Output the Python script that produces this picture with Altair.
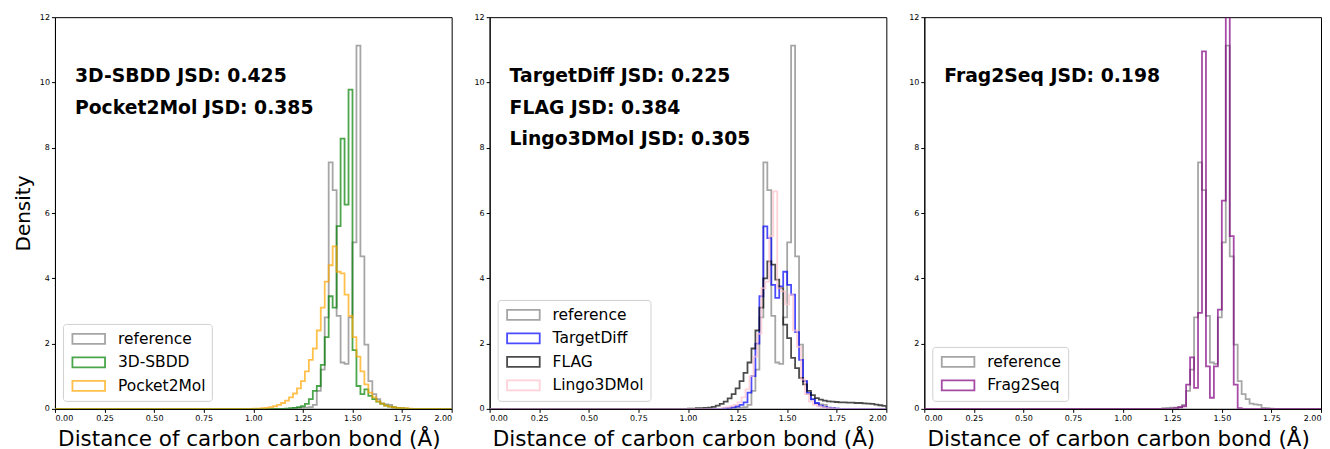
import altair as alt
import pandas as pd

BIN = 0.02

# ---- histogram densities (bin width 0.02), each series: first bin edge + densities ----
REF_START = 1.20
REF_VALS = [0.02, 0.03, 0.04, 0.04, 0.05, 0.12, 0.55, 1.2, 2.8, 7.55, 6.7, 2.85, 1.42, 1.38,
            2.8, 5.1, 11.13, 4.67, 1.97, 0.85, 0.45, 0.3, 0.16, 0.14, 0.12, 0.03, 0.02, 0.01]

SBDD_START = 1.16
SBDD_VALS = [0.01, 0.02, 0.03, 0.05, 0.08, 0.15, 0.3, 0.55, 0.7, 1.35, 2.2, 3.45, 3.1, 5.6,
             8.28, 6.26, 9.78, 1.8, 0.7, 0.45, 0.6, 0.4, 0.3, 0.22, 0.16, 0.1, 0.07, 0.05,
             0.03, 0.02, 0.01]

P2M_START = 1.00
P2M_VALS = [0.01, 0.01, 0.02, 0.03, 0.05, 0.08, 0.12, 0.18, 0.25, 0.35, 0.47, 0.63, 0.85,
            1.15, 1.5, 1.85, 2.4, 3.1, 3.9, 4.4, 4.98, 4.2, 4.15, 3.5, 2.85, 2.2, 1.6, 1.15,
            0.75, 0.5, 0.35, 0.23, 0.16, 0.1, 0.07, 0.05, 0.03, 0.02, 0.02, 0.01]

TD_START = 1.18
TD_VALS = [0.02, 0.03, 0.05, 0.08, 0.12, 0.2, 0.5, 1.0, 2.0, 3.45, 5.59, 5.23, 3.8, 3.4,
           3.75, 4.2, 3.8, 3.5, 2.35, 1.5, 0.85, 0.49, 0.29, 0.18, 0.1, 0.06, 0.04, 0.02, 0.01]

FLAG_START = 1.00
FLAG_VALS = [0.01, 0.01, 0.02, 0.02, 0.03, 0.04, 0.06, 0.1, 0.15, 0.22, 0.32, 0.45, 0.63,
             0.85, 1.1, 1.42, 1.85, 2.4, 3.1, 4.0, 4.52, 4.42, 3.96, 3.7, 2.58, 2.17, 1.56,
             1.25, 0.95, 0.75, 0.55, 0.42, 0.33, 0.28, 0.25, 0.23, 0.22, 0.21, 0.2, 0.2,
             0.19, 0.19, 0.18, 0.18, 0.17, 0.16, 0.15, 0.13, 0.11, 0.09]

LINGO_START = 1.17
LINGO_VALS = [0.03, 0.05, 0.08, 0.12, 0.2, 0.35, 0.6, 1.0, 1.6, 2.3, 3.7, 3.9, 5.3, 6.66,
              3.7, 3.6, 3.2, 3.5, 2.4, 1.9, 0.9, 0.45, 0.22, 0.12, 0.08, 0.05, 0.03, 0.02, 0.01]

F2S_START = 1.24
F2S_VALS = [0.01, 0.02, 0.05, 0.08, 0.74, 1.58, 0.64, 2.94, 10.95, 1.3, 0.34, 1.3, 3.04,
            6.38, 14.5, 5.29, 0.74, 0.02]

X_TICKS = [0.0, 0.25, 0.5, 0.75, 1.0, 1.25, 1.5, 1.75, 2.0]
Y_TICKS = [0, 2, 4, 6, 8, 10, 12]

PANELS = [
    {"names": ["reference", "3D-SBDD", "Pocket2Mol"],
     "colors": ["gray", "green", "orange"],
     "series": [(REF_START, REF_VALS), (SBDD_START, SBDD_VALS), (P2M_START, P2M_VALS)],
     "texts": ["3D-SBDD JSD: 0.425", "Pocket2Mol JSD: 0.385"]},
    {"names": ["reference", "TargetDiff", "FLAG", "Lingo3DMol"],
     "colors": ["gray", "blue", "black", "pink"],
     "series": [(REF_START, REF_VALS), (TD_START, TD_VALS), (FLAG_START, FLAG_VALS),
                (LINGO_START, LINGO_VALS)],
     "texts": ["TargetDiff JSD: 0.225", "FLAG JSD: 0.384", "Lingo3DMol JSD: 0.305"]},
    {"names": ["reference", "Frag2Seq"],
     "colors": ["gray", "purple"],
     "series": [(REF_START, REF_VALS), (F2S_START, F2S_VALS)],
     "texts": ["Frag2Seq JSD: 0.198"]},
]

XTITLE = "Distance of carbon carbon bond (Å)"
FONT = "DejaVu Sans"
RECT = "M-0.69,-0.625L3.39,-0.625L3.39,0.625L-0.69,0.625Z"


def step_rows(name, start, vals):
    rows = []
    pts = [(0.0, 0.0), (start, 0.0)]
    for k, v in enumerate(vals):
        e0 = start + BIN * k
        pts.append((e0, v))
        pts.append((e0 + BIN, v))
    end = start + BIN * len(vals)
    pts.append((end, 0.0))
    pts.append((2.0, 0.0))
    for i, (x, y) in enumerate(pts):
        rows.append({"series": name, "x": x, "y": y, "i": i})
    return rows


def make_panel(p, first):
    rows = []
    for name, (start, vals) in zip(p["names"], p["series"]):
        rows.extend(step_rows(name, start, vals))
    df = pd.DataFrame(rows)
    yaxis = alt.Axis(values=Y_TICKS, title="Density" if first else None, format="d",
                     titlePadding=6)
    lines = alt.Chart(df).mark_line(strokeWidth=1.8, strokeOpacity=0.7, clip=True).encode(
        x=alt.X("x:Q", scale=alt.Scale(domain=[0, 2], nice=False, zero=False),
                axis=alt.Axis(values=X_TICKS, format=".2f", title=XTITLE, titlePadding=6,
                              titleX=194)),
        y=alt.Y("y:Q", scale=alt.Scale(domain=[0, 12], nice=False), axis=yaxis),
        stroke=alt.Stroke("series:N",
                          scale=alt.Scale(domain=p["names"], range=p["colors"]),
                          sort=p["names"],
                          legend=alt.Legend(title=None, orient="bottom-left", offset=8,
                                            symbolType=RECT, symbolSize=256,
                                            symbolStrokeWidth=1.8, symbolOpacity=0.7,
                                            symbolFillColor="white",
                                            labelFontSize=15.5, labelFont=FONT,
                                            labelColor="black", labelOffset=31,
                                            rowPadding=5.5, padding=6,
                                            fillColor="white", strokeColor="#d0d0d0",
                                            cornerRadius=3)),
        order="i:Q",
    )
    layers = [lines]
    for k, t in enumerate(p["texts"]):
        tdf = pd.DataFrame({"t": [t]})
        layers.append(
            alt.Chart(tdf).mark_text(align="left", baseline="middle", font=FONT,
                                     fontSize=18.8, fontWeight="bold", color="black")
            .encode(text="t:N", x=alt.value(20), y=alt.value(59 + 31.5 * k))
        )
    return alt.layer(*layers).properties(width=397, height=392)


chart = alt.hconcat(*[make_panel(p, i == 0) for i, p in enumerate(PANELS)],
                    spacing=38, bounds="flush")
chart = chart.resolve_scale(stroke="independent").properties(
    padding={"left": 4, "top": 4, "right": 0, "bottom": 0}
).configure_view(stroke="black", strokeWidth=1).configure_axis(
    domainColor="black", tickColor="black", labelColor="black", titleColor="black",
    labelFont=FONT, titleFont=FONT, titleFontWeight="normal", grid=False, tickSize=3.5,
    labelFontSize=8, titleFontSize=20
).configure_axisX(titleFontSize=21.5)

chart.save("out.html", embed_options={"renderer": "svg", "actions": False})
